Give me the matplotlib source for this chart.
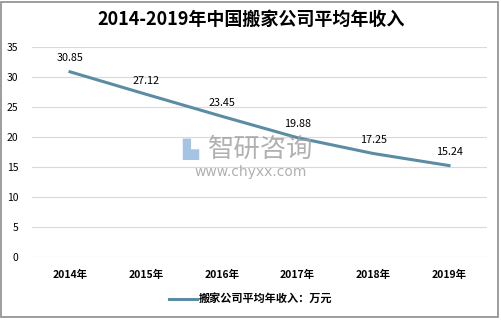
import matplotlib
matplotlib.use('Agg')
from matplotlib import pyplot as plt
from matplotlib.patches import Rectangle

plt.rcParams['font.family'] = ['Noto Sans CJK SC', 'DejaVu Sans']

years = ['2014年', '2015年', '2016年', '2017年', '2018年', '2019年']
income = [30.85, 27.12, 23.45, 19.88, 17.25, 15.24]
series_name = '搬家公司平均年收入：万元'
title = '2014-2019年中国搬家公司平均年收入'

fig = plt.figure(figsize=(5.02, 3.21), dpi=100)
fig.patches.append(Rectangle((0.002, 0.012), 0.99, 0.982, transform=fig.transFigure,
                             fill=False, edgecolor='#8c8c8c', linewidth=1.2))
ax = fig.add_axes([0.064, 0.199, 0.906, 0.655])

x = range(len(years))
line, = ax.plot(x, income, color='#5b8ca4', linewidth=2.2, label=series_name)
for xi, v in zip(x, income):
    ax.annotate(f'{v:.2f}', (xi, v), xytext=(0, 6), textcoords='offset points',
                ha='center', va='bottom', fontsize=7.8)

ax.set_xlim(-0.5, len(years) - 0.5)
ax.set_ylim(0, 35)
ax.set_yticks(range(0, 36, 5))
ax.set_xticks(list(x))
ax.set_xticklabels(years, fontsize=7.5, fontweight='bold')
ax.tick_params(axis='y', labelsize=7.5, length=0, pad=10)
ax.tick_params(axis='x', length=0, pad=9)
ax.grid(axis='y', color='#d9d9d9', linewidth=0.8)
ax.set_axisbelow(True)
for s in ax.spines.values():
    s.set_visible(False)

# watermark
fig.text(0.415, 0.535, '智研咨询', fontsize=19, color='#a09c9c', alpha=0.8, ha='left', va='center')
fig.text(0.363, 0.535, '▙', fontsize=15, color='#8fb4dc', alpha=0.8, ha='left', va='center',
         family=['DejaVu Sans'])
fig.text(0.5, 0.465, 'www.chyxx.com', fontsize=10, color='#a09c9c', alpha=0.8, ha='center',
         va='center', family=['DejaVu Sans'])

fig.text(0.5, 0.94, title, fontsize=13, fontweight='bold', ha='center', va='center')
fig.legend(handles=[line], loc='center', bbox_to_anchor=(0.5, 0.068), frameon=False,
           prop={'size': 8, 'weight': 'bold'}, handlelength=2.5, handletextpad=0.2)

fig.savefig('out.png', dpi=100)
